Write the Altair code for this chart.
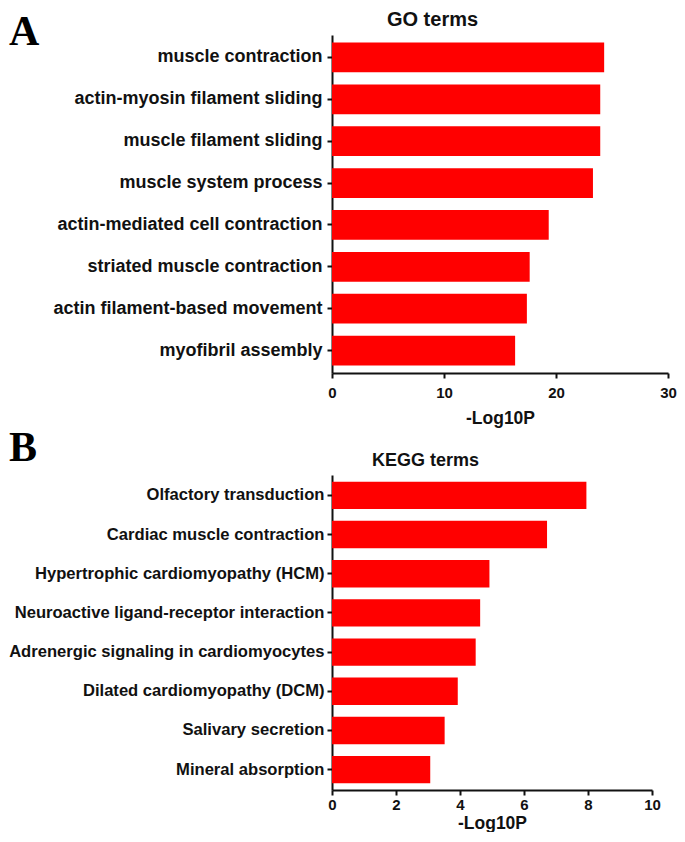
import altair as alt
import pandas as pd

# ---------------- data ----------------
go_terms = [
    "muscle contraction",
    "actin-myosin filament sliding",
    "muscle filament sliding",
    "muscle system process",
    "actin-mediated cell contraction",
    "striated muscle contraction",
    "actin filament-based movement",
    "myofibril assembly",
]
go_values = [24.3, 23.95, 23.95, 23.3, 19.35, 17.65, 17.4, 16.35]
go_ticks = [0, 10, 20, 30]

kegg_terms = [
    "Olfactory transduction",
    "Cardiac muscle contraction",
    "Hypertrophic cardiomyopathy (HCM)",
    "Neuroactive ligand-receptor interaction",
    "Adrenergic signaling in cardiomyocytes",
    "Dilated cardiomyopathy (DCM)",
    "Salivary secretion",
    "Mineral absorption",
]
kegg_values = [7.95, 6.72, 4.92, 4.63, 4.49, 3.93, 3.52, 3.07]
kegg_ticks = [0, 2, 4, 6, 8, 10]

panel_letters = ["A", "B"]
panel_titles = ["GO terms", "KEGG terms"]
x_title = "-Log10P"

SANS = "Liberation Sans"
SERIF = "Liberation Serif"


def panel(terms, values, ticks, letter, title, width, height,
          label_size, label_pad, tick_label_size, tick_label_pad,
          x_title_size, x_title_pad, title_size, title_x, title_y,
          letter_y, p_inner, p_outer):
    df = pd.DataFrame({"term": terms, "value": values})
    bars = alt.Chart(df).mark_bar(color="#ff0000").encode(
        x=alt.X(
            "value:Q",
            scale=alt.Scale(domain=[ticks[0], ticks[-1]], nice=False, zero=True),
            axis=alt.Axis(
                values=ticks, title=x_title, grid=False,
                domainColor="#111111", domainWidth=2,
                tickColor="#111111", tickWidth=2, tickSize=5,
                labelFont=SANS, labelFontWeight="bold",
                labelFontSize=tick_label_size, labelColor="#111111",
                labelPadding=tick_label_pad, labelFlush=False,
                titleFont=SANS, titleFontWeight="bold",
                titleFontSize=x_title_size, titleColor="#111111",
                titlePadding=x_title_pad,
            ),
        ),
        y=alt.Y(
            "term:N", sort=terms,
            scale=alt.Scale(paddingInner=p_inner, paddingOuter=p_outer),
            axis=alt.Axis(
                title=None, grid=False,
                domainColor="#111111", domainWidth=2,
                tickColor="#111111", tickWidth=2, tickSize=5,
                labelFont=SANS, labelFontWeight="bold",
                labelFontSize=label_size, labelColor="#111111",
                labelPadding=label_pad, labelLimit=600,
            ),
        ),
    )
    tdf = pd.DataFrame({"t": [title]})
    ttl = alt.Chart(tdf).mark_text(
        font=SANS, fontWeight="bold", fontSize=title_size,
        align="center", baseline="alphabetic", color="#111111",
    ).encode(x=alt.value(title_x), y=alt.value(title_y), text="t:N")
    ldf = pd.DataFrame({"l": [letter]})
    let = alt.Chart(ldf).mark_text(
        font=SERIF, fontWeight="bold", fontSize=42,
        align="left", baseline="alphabetic", color="black",
    ).encode(x=alt.value(-323), y=alt.value(letter_y), text="l:N")
    return alt.layer(bars, ttl, let).properties(width=width, height=height)


pa = panel(go_terms, go_values, go_ticks, panel_letters[0], panel_titles[0],
           width=336, height=338, label_size=18, label_pad=5,
           tick_label_size=15, tick_label_pad=7, x_title_size=17.5, x_title_pad=9,
           title_size=20, title_x=100.5, title_y=-9, letter_y=10,
           p_inner=0.29, p_outer=0.18)

pb = panel(kegg_terms, kegg_values, kegg_ticks, panel_letters[1], panel_titles[1],
           width=320, height=315, label_size=16.6, label_pad=3,
           tick_label_size=15, tick_label_pad=2, x_title_size=17.5, x_title_pad=2,
           title_size=18, title_x=93.5, title_y=-9, letter_y=-14,
           p_inner=0.30, p_outer=0.17)

chart = alt.vconcat(pa, pb, spacing=0).properties(
    padding={"top": 2, "left": 0, "right": 0, "bottom": 0}
).configure_view(stroke=None)

chart.save("out.html", embed_options={"renderer": "svg", "actions": False})
